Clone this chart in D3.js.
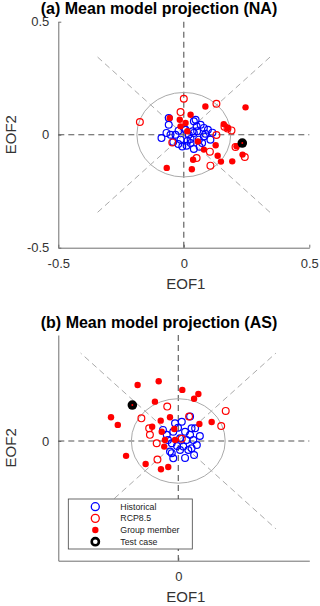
<!DOCTYPE html>
<html>
<head>
<meta charset="utf-8">
<script src="https://cdn.jsdelivr.net/npm/d3@7"></script>
<style>
  body { margin: 0; background: #fff; }
  svg { display: block; font-family: "Liberation Sans", Arial, Helvetica, sans-serif; }
</style>
</head>
<body>
<script>
// ---- data (EOF1, EOF2) ----
const naHistorical = [
  [-0.089,-0.015],[-0.060,0.044],[-0.053,0.000],[-0.033,0.000],[-0.069,0.008],[-0.042,-0.032],
  [-0.022,-0.041],[-0.006,-0.052],[0.011,-0.049],[0.040,-0.063],[0.027,-0.019],[-0.013,-0.022],
  [0.051,0.037],[0.067,0.044],[0.080,0.030],[0.096,0.022],[0.080,-0.008],[0.106,-0.022],
  [0.073,-0.037],[0.053,0.015],[0.035,0.015],[0.040,0.059],[0.047,0.066],[0.020,0.000],
  [0.060,-0.022],[0.027,-0.037],[0.040,0.008],[0.007,0.022],[0.000,0.031],[0.086,0.004],
  [0.114,0.009],[0.063,-0.053],[0.015,-0.027],[-0.060,0.074],[-0.021,0.018]
];
const naRcp85 = [
  [0.000,0.159],[-0.175,0.056],[-0.013,0.100],[0.130,0.137],[0.130,-0.001],[0.104,-0.075],
  [0.106,-0.137],[0.051,-0.103],[0.190,0.019],[-0.046,-0.034],[0.243,-0.099],[0.174,0.027],
  [0.162,0.035],[0.206,-0.054]
];
const naGroup = [
  [0.086,0.125],[0.246,0.121],[0.027,0.088],[-0.056,0.074],[-0.016,0.066],[0.007,0.052],
  [0.159,0.047],[0.175,0.030],[0.056,-0.030],[0.127,-0.047],[0.080,-0.066],[0.135,-0.093],
  [0.037,-0.111],[0.148,-0.119],[-0.068,-0.147],[0.032,-0.153],[0.210,-0.051],[0.234,-0.088],
  [0.193,-0.118],[-0.013,0.037],[0.014,0.015]
];
const naTest = [[0.233,-0.037]];

const asHistorical = [
  [-0.013,0.078],[0.014,0.085],[0.047,0.108],[0.053,0.056],[0.027,0.041],[-0.020,0.041],
  [0.007,0.012],[0.033,0.004],[0.060,0.004],[0.040,-0.040],[0.007,-0.040],[-0.026,-0.054],
  [-0.020,-0.077],[0.053,-0.032],[0.067,0.056],[-0.046,0.027],[-0.026,-0.010],[-0.033,-0.047],
  [-0.005,-0.022],[0.020,-0.025],[0.047,0.027],[0.074,-0.018],[-0.061,0.049],[0.027,-0.075],
  [0.063,-0.062],[-0.001,0.058],[-0.041,0.004],[0.086,0.022]
];
const asRcp85 = [
  [-0.044,0.152],[0.043,0.108],[-0.147,0.100],[0.189,0.133],[0.171,0.066],[-0.116,0.056],
  [0.014,0.010],[-0.083,-0.082],[-0.086,-0.010],[-0.113,0.027]
];
const asGroup = [
  [-0.162,0.248],[-0.078,0.264],[0.016,0.226],[0.080,0.208],[0.063,0.187],[-0.093,0.174],
  [-0.268,0.105],[-0.241,0.071],[-0.070,0.090],[-0.033,0.105],[-0.104,0.063],[-0.066,0.041],
  [0.084,0.075],[0.133,0.084],[-0.016,0.053],[-0.208,-0.066],[-0.130,-0.102],[-0.069,-0.125],
  [-0.040,-0.115],[-0.056,-0.025],[-0.013,0.004],[-0.053,0.004]
];
const asTest = [[-0.183,0.159]];

const legendLabels = ["Historical", "RCP8.5", "Group member", "Test case"];

const width = 320, height = 606;
const svg = d3.select("body").append("svg")
  .attr("width", width)
  .attr("height", height);

const panels = [
  { title: "(a) Mean model projection (NA)", titleY: 14,
    left: 58.3, right: 309.3, top: 21.7, bottom: 247.7,
    xDomain: [-0.5, 0.5], yDomain: [-0.5, 0.5], ticks: [-0.5, 0, 0.5],
    circleR: 0.187, diagR: 0.5,
    hist: naHistorical, rcp: naRcp85, group: naGroup, test: naTest, legend: false },
  { title: "(b) Mean model projection (AS)", titleY: 328,
    left: 58.3, right: 309.3, top: 335, bottom: 560.7,
    xDomain: [-0.478, 0.522], yDomain: [-0.53, 0.469], ticks: [0],
    circleR: 0.187, diagR: 0.55,
    hist: asHistorical, rcp: asRcp85, group: asGroup, test: asTest, legend: true }
];

panels.forEach(drawPanel);

function drawPanel(p) {
  const x = d3.scaleLinear().domain(p.xDomain).range([p.left, p.right]);
  const y = d3.scaleLinear().domain(p.yDomain).range([p.bottom, p.top]);
  const g = svg.append("g");

  g.append("text")
    .attr("x", 159).attr("y", p.titleY)
    .attr("text-anchor", "middle")
    .attr("font-size", 16).attr("font-weight", "bold")
    .attr("fill", "#000")
    .text(p.title);

  // axes (MATLAB style: left + bottom, inward ticks)
  const fmt = d => String(d);
  const xAxis = g.append("g")
    .attr("transform", `translate(0,${p.bottom})`)
    .call(d3.axisBottom(x).tickValues(p.ticks).tickFormat(fmt).tickSizeInner(-3).tickSizeOuter(0).tickPadding(11));
  const yAxis = g.append("g")
    .attr("transform", `translate(${p.left},0)`)
    .call(d3.axisLeft(y).tickValues(p.ticks).tickFormat(fmt).tickSizeInner(-3).tickSizeOuter(0).tickPadding(9));
  [xAxis, yAxis].forEach(a => {
    a.select(".domain").attr("stroke", "#6e6e6e");
    a.selectAll(".tick line").attr("stroke", "#6e6e6e");
    a.selectAll(".tick text").attr("fill", "#333").attr("font-size", 13)
      .attr("font-family", "'Liberation Sans', Arial, sans-serif");
  });

  g.append("text")
    .attr("x", (p.left + p.right) / 2 + 2).attr("y", p.bottom + 41)
    .attr("text-anchor", "middle").attr("font-size", 15).attr("fill", "#333")
    .text("EOF1");
  g.append("text")
    .attr("transform", `translate(16,${(p.top + p.bottom) / 2}) rotate(-90)`)
    .attr("text-anchor", "middle").attr("font-size", 15).attr("fill", "#333")
    .text("EOF2");

  // guide lines
  [45, 135, 225, 315].forEach(a => {
    const r = a * Math.PI / 180;
    g.append("line")
      .attr("x1", x(0)).attr("y1", y(0))
      .attr("x2", x(p.diagR * Math.cos(r))).attr("y2", y(p.diagR * Math.sin(r)))
      .attr("stroke", "#a0a0a0").attr("stroke-width", 0.9)
      .attr("stroke-dasharray", "6,4");
  });
  g.append("line")
    .attr("x1", p.left).attr("x2", p.right).attr("y1", y(0)).attr("y2", y(0))
    .attr("stroke", "#555").attr("stroke-width", 1.1).attr("stroke-dasharray", "6,4");
  g.append("line")
    .attr("x1", x(0)).attr("x2", x(0)).attr("y1", p.top).attr("y2", p.bottom)
    .attr("stroke", "#555").attr("stroke-width", 1.1).attr("stroke-dasharray", "6,4");
  g.append("ellipse")
    .attr("cx", x(0)).attr("cy", y(0))
    .attr("rx", x(p.circleR) - x(0)).attr("ry", y(0) - y(p.circleR))
    .attr("fill", "none").attr("stroke", "#aaa").attr("stroke-width", 1);

  // points
  g.append("g").selectAll("circle").data(p.hist).join("circle")
    .attr("cx", d => x(d[0])).attr("cy", d => y(d[1])).attr("r", 3.4)
    .attr("fill", "none").attr("stroke", "#0000ff").attr("stroke-width", 1.2);
  g.append("g").selectAll("circle").data(p.rcp).join("circle")
    .attr("cx", d => x(d[0])).attr("cy", d => y(d[1])).attr("r", 3.4)
    .attr("fill", "none").attr("stroke", "#ff0000").attr("stroke-width", 1.2);
  g.append("g").selectAll("circle").data(p.group).join("circle")
    .attr("cx", d => x(d[0])).attr("cy", d => y(d[1])).attr("r", 3.2)
    .attr("fill", "#ff0000");
  const tc = g.append("g").selectAll("g").data(p.test).join("g")
    .attr("transform", d => `translate(${x(d[0])},${y(d[1])})`);
  tc.append("circle").attr("r", 4.8).attr("fill", "#000");
  tc.append("circle").attr("r", 1).attr("fill", "#ff0000");

  if (p.legend) drawLegend(g);
}

function drawLegend(g) {
  const lx = 68.3, ly = 499, lw = 124, lh = 50;
  g.append("rect")
    .attr("x", lx).attr("y", ly).attr("width", lw).attr("height", lh)
    .attr("fill", "#fff").attr("stroke", "#444").attr("stroke-width", 0.8);
  const rowY = d3.scalePoint().domain(legendLabels).range([ly + 7.7, ly + 42.7]);
  const rows = g.selectAll(".leg").data(legendLabels).join("g")
    .attr("class", "leg")
    .attr("transform", d => `translate(${lx + 27},${rowY(d)})`);
  rows.each(function(d, i) {
    const s = d3.select(this);
    if (i === 0) s.append("circle").attr("r", 4).attr("fill", "none").attr("stroke", "#0000ff").attr("stroke-width", 1.3);
    if (i === 1) s.append("circle").attr("r", 4).attr("fill", "none").attr("stroke", "#ff0000").attr("stroke-width", 1.3);
    if (i === 2) s.append("circle").attr("r", 3.2).attr("fill", "#ff0000");
    if (i === 3) s.append("circle").attr("r", 3.6).attr("fill", "#fff").attr("stroke", "#000").attr("stroke-width", 2.6);
  });
  rows.append("text")
    .attr("x", 25).attr("dy", "0.35em")
    .attr("font-size", 8.8).attr("fill", "#222")
    .text(d => d);
}
</script>
</body>
</html>
